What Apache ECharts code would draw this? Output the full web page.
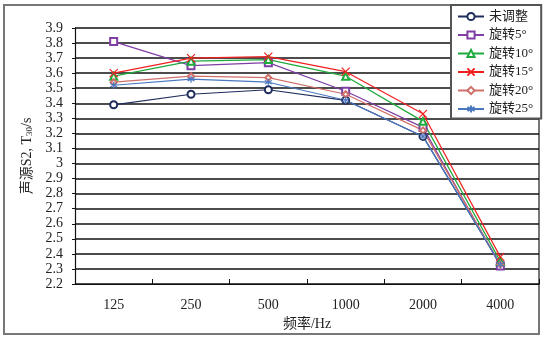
<!DOCTYPE html>
<html><head><meta charset="utf-8">
<script src="https://cdn.jsdelivr.net/npm/echarts@6/dist/echarts.min.js"></script>
<style>html,body{margin:0;padding:0;background:#fff}#c{width:546px;height:341px}</style>
</head><body><div id="c"></div>
<script>
const categories = ['125','250','500','1000','2000','4000'];
const seriesNames = ['未调整','旋转5°','旋转10°','旋转15°','旋转20°','旋转25°'];
const s0 = [3.39, 3.46, 3.49, 3.42, 3.18, 2.33];
const s5 = [3.81, 3.65, 3.67, 3.48, 3.24, 2.32];
const s10 = [3.58, 3.68, 3.69, 3.58, 3.28, 2.35];
const s15 = [3.60, 3.70, 3.71, 3.61, 3.33, 2.38];
const s20 = [3.54, 3.58, 3.57, 3.46, 3.22, 2.33];
const s25 = [3.52, 3.56, 3.54, 3.42, 3.18, 2.33];
const yMin = 2.2, yMax = 3.9, yStep = 0.1;

const FONT = "'Liberation Serif','Noto Sans CJK SC',serif";
const colors = ['#1f2d5c','#7f3fa6','#1faa3c','#f02020','#d0706a','#4a78c0'];
const symbols = ['emptyCircle','emptyRect','emptyTriangle',
  'path://M0,0L10,10M10,0L0,10',
  'emptyDiamond',
  'path://M5,0L5,10M0,2.5L10,7.5M0,7.5L10,2.5'];
const sizes = [7,7,7,8,6,7];
const datas = [s0,s5,s10,s15,s20,s25];

const chart = echarts.init(document.getElementById('c'), null, {renderer:'canvas'});
chart.setOption({
  backgroundColor:'#fff',
  animation:false,
  graphic:[{type:'rect', shape:{x:4,y:5,width:535,height:329}, style:{fill:'none', stroke:'#777', lineWidth:2}, silent:true, z:-1}],
  grid:{left:75, right:7, top:28, bottom:57, containLabel:false},
  legend:{
    orient:'vertical', left:451, top:5, width:88,
    data:seriesNames,
    itemWidth:26, itemHeight:9, itemGap:5.5,
    backgroundColor:'#fff', borderColor:'#555', borderWidth:2,
    padding:[5,8,3,6],
    textStyle:{fontFamily:FONT, fontSize:13, color:'#222'}
  },
  xAxis:{
    type:'category', data:categories, boundaryGap:true,
    axisLine:{lineStyle:{color:'#111', width:1.2}},
    axisTick:{show:true, inside:true, length:5, lineStyle:{color:'#111'}},
    axisLabel:{fontFamily:FONT, fontSize:14, color:'#222', margin:14},
    name:'频率/Hz', nameLocation:'middle', nameGap:31,
    nameTextStyle:{fontFamily:FONT, fontSize:14, color:'#222'}
  },
  yAxis:{
    type:'value', min:yMin, max:yMax, interval:yStep,
    axisLine:{show:true, lineStyle:{color:'#111', width:1.2}},
    axisTick:{show:true, length:3, lineStyle:{color:'#111'}},
    splitLine:{show:true, lineStyle:{color:'#111', width:1.5}},
    axisLabel:{fontFamily:FONT, fontSize:14, color:'#222', margin:12,
      formatter:v=>(Math.abs(v-3)<1e-6?'3':v.toFixed(1))},
    name:'{a|声源S2, T}{s|30}{a|/s}', nameLocation:'middle', nameGap:40, nameRotate:90,
    nameTextStyle:{rich:{
      a:{fontFamily:FONT, fontSize:14, color:'#222'},
      s:{fontFamily:FONT, fontSize:9, color:'#222', verticalAlign:'bottom', padding:[6,0,0,0]}
    }}
  },
  series: datas.map((d,i)=>({
    name:seriesNames[i], type:'line', data:d,
    symbol:symbols[i], symbolSize:sizes[i],
    showAllSymbol:true,
    lineStyle:{color:colors[i], width:1.2},
    itemStyle:{color:colors[i], borderColor:colors[i], borderWidth:1.2},
    emphasis:{disabled:true}
  }))
});
</script></body></html>
